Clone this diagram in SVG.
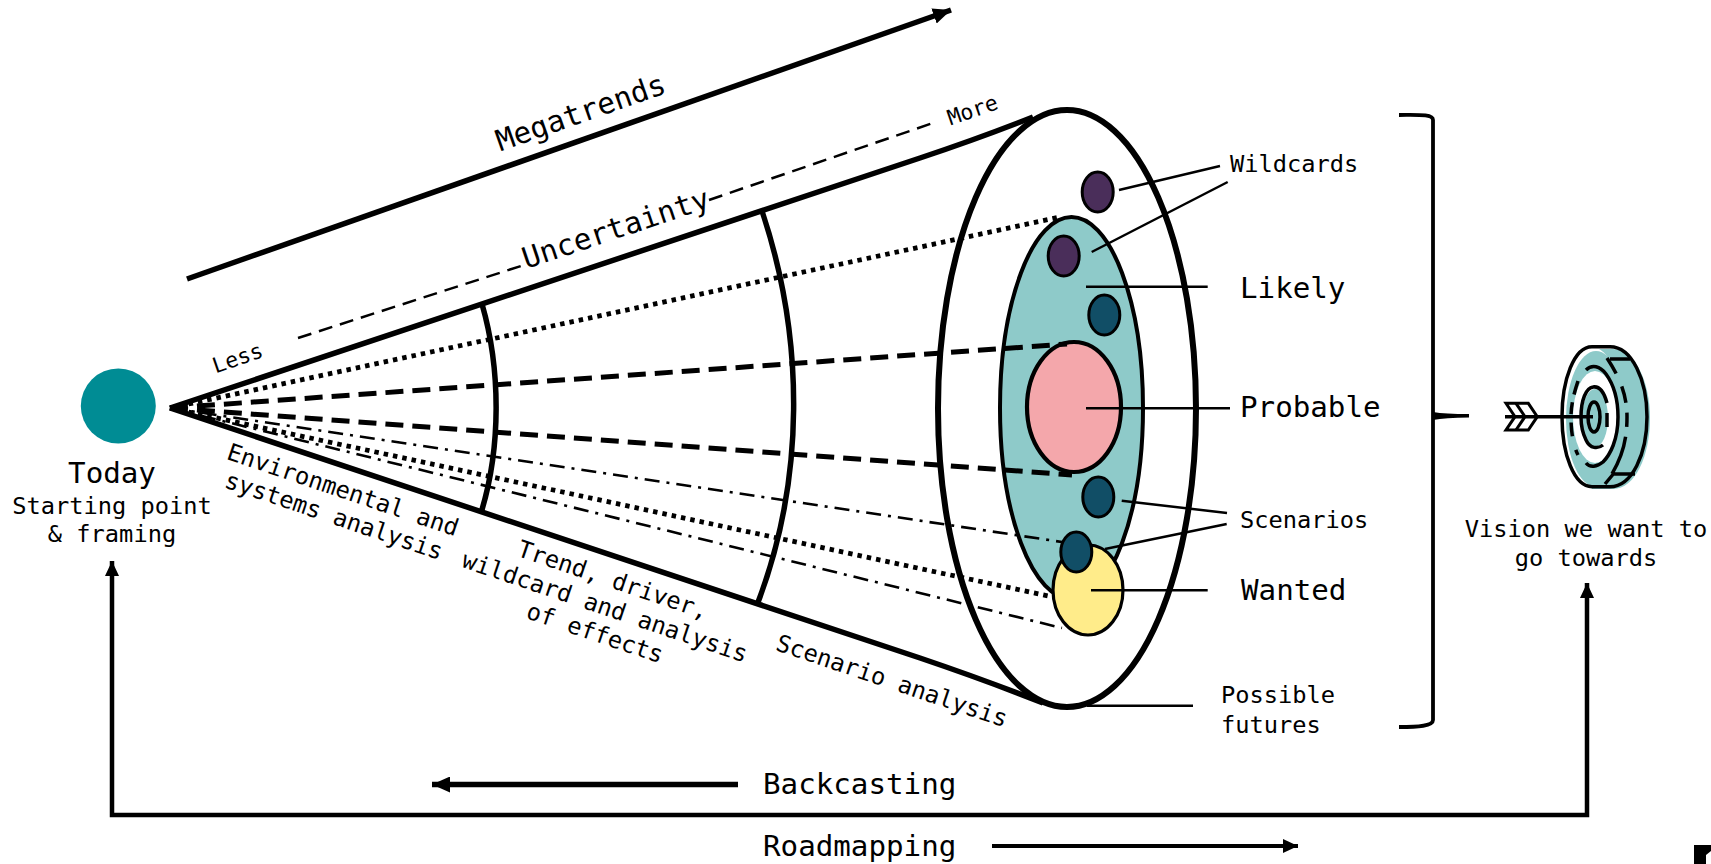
<svg xmlns="http://www.w3.org/2000/svg" width="1711" height="864" viewBox="0 0 1711 864">
<style>
text{font-family:"DejaVu Sans Mono","Liberation Mono",monospace;fill:#000}
.s24{font-size:23.7px}.s29{font-size:29.2px}.s22{font-size:21.5px}
.m{text-anchor:middle}
.l{fill:none;stroke:#000;stroke-linecap:butt}
.ray{fill:none;stroke:#000}
.dot{stroke-width:4.8;stroke-dasharray:4.5 5}
.dash{stroke-width:5;stroke-dasharray:18 9}
.dd{stroke-width:2.6;stroke-dasharray:15 7 3 7}
.lead{fill:none;stroke:#000;stroke-width:2.5}
.e{stroke:#000}
</style>
<defs>
<marker id="ah" markerUnits="userSpaceOnUse" markerWidth="20" markerHeight="16" refX="18" refY="8" orient="auto-start-reverse"><path d="M0 0L18 8L0 16Z" fill="#000"/></marker>
<marker id="ahs" markerUnits="userSpaceOnUse" markerWidth="16" markerHeight="14" refX="15" refY="7" orient="auto-start-reverse"><path d="M0 0L15 7L0 14Z" fill="#000"/></marker>
</defs>
<g id="cone-outer">
<ellipse class="e" cx="1067" cy="408.5" rx="129" ry="298.5" fill="#fff" stroke-width="6"/>
</g>
<g id="likely"><ellipse class="e" cx="1071.500" cy="408" rx="71.500" ry="191" fill="#8ecac9" stroke-width="4"/></g>
<g id="wanted"><ellipse class="e" cx="1088" cy="590" rx="35" ry="45" fill="#ffec8a" stroke-width="3.2"/></g>
<g id="probable"><ellipse class="e" cx="1074" cy="407" rx="47" ry="65" fill="#f4a7ab" stroke-width="4.2"/></g>
<g id="wildcard-a"><ellipse class="e" cx="1097.7" cy="192" rx="15.5" ry="20" fill="#4a2e5a" stroke-width="3"/></g>
<g id="wildcard-b"><ellipse class="e" cx="1063.7" cy="256" rx="15.5" ry="20" fill="#4a2e5a" stroke-width="3"/></g>
<g id="scenario-a"><ellipse class="e" cx="1104.3" cy="315" rx="15.5" ry="20" fill="#114e66" stroke-width="3"/></g>
<g id="scenario-b"><ellipse class="e" cx="1098.3" cy="497" rx="15.5" ry="20" fill="#114e66" stroke-width="3"/></g>
<g id="scenario-c"><ellipse class="e" cx="1076.3" cy="552" rx="15.5" ry="20" fill="#114e66" stroke-width="3"/></g>
<g id="connectors">
<path class="l" stroke-width="5.500" d="M170 408L920 158Q980 138 1033 117"/>
<path class="l" stroke-width="5.500" d="M170 408L920 658Q985 680 1043 703"/>
<path class="l" stroke-width="5.500" d="M482 304C501 370 501 448 481 513"/>
<path class="l" stroke-width="5.500" d="M762 211C805 340 805 480 757 605"/>
<path class="ray dot" d="M170 408L1060 217"/>
<path class="ray dash" d="M170 408L1067 344"/>
<path class="ray dash" d="M170 408L1072 475"/>
<path class="ray dd" d="M170 408L1062 542"/>
<path class="ray dot" d="M170 408L1053 597"/>
<path class="ray dd" d="M170 408L1062 628"/>
<path class="l" stroke-width="5.500" marker-end="url(#ah)" d="M187 279L951 10"/>
<path class="l" stroke-width="2.500" stroke-dasharray="14 8" d="M298 338L524 265"/>
<path class="l" stroke-width="2.500" stroke-dasharray="14 8" d="M709 200L933 123"/>
<path class="lead" d="M1119 190L1220 166"/>
<path class="lead" d="M1091.700 252L1227.700 182"/>
<path class="lead" stroke-width="3" d="M1086 286.700H1207.700"/>
<path class="lead" stroke-width="3" d="M1086 408.300H1230"/>
<path class="lead" d="M1121.700 500.700L1227 513"/>
<path class="lead" d="M1105 549L1226.700 524"/>
<path class="lead" stroke-width="3" d="M1091 590.300H1207.700"/>
<path class="lead" stroke-width="3" d="M1087 705.700H1193"/>
<path class="l" stroke-width="5.500" marker-end="url(#ah)" d="M738 784.500H432"/>
<path class="l" stroke-width="4" marker-end="url(#ahs)" d="M992 846H1298"/>
<path class="l" stroke-width="4.500" marker-start="url(#ahs)" marker-end="url(#ahs)" d="M112 561V815H1587V583"/>
</g>
<g id="bracket">
<path class="l" stroke-width="3.800" d="M1399 115C1418 115 1433 114 1433 120V720C1433 726 1418 727 1399 727"/>
<path d="M1433 412Q1445 414 1469 414V417.500Q1445 417.500 1433 420Z" fill="#000"/>
</g>
<g id="today"><circle cx="118.300" cy="406" r="37.500" fill="#008c94"/>
<text class="s29 m" x="112" y="483">Today</text>
<text class="s24 m" x="112" y="514">Starting point</text>
<text class="s24 m" x="112" y="542">&amp; framing</text></g>
<g id="target">
<path d="M1592 349H1613C1635 349 1650 382 1650 418C1650 456 1635 489 1613 489H1592Z" fill="#8ecac9"/>
<ellipse cx="1592" cy="417" rx="30" ry="70" fill="#fff"/>
<ellipse cx="1596" cy="419" rx="30" ry="68" fill="#8ecac9"/>
<ellipse cx="1595" cy="417" rx="22" ry="46" fill="#fff"/>
<ellipse cx="1595" cy="418" rx="13" ry="29" fill="#8ecac9"/>
<g fill="none" stroke="#000" stroke-width="3.500">
<path d="M1592 346.700H1610C1632 346.700 1647 380 1647 416.700C1647 454 1632 486.700 1610 486.700H1592"/>
<path d="M1592 346.700C1574 346.700 1562 380 1562 416.700C1562 454 1574 486.700 1592 486.700"/>
<path d="M1607 358C1620 378 1627 395 1627 417C1627 445 1620 462 1607 482" stroke-dasharray="18 14 17 10 14 10 40"/>
<path d="M1586 370C1592 364 1600 366 1606 374C1614 385 1618 400 1618 417C1618 440 1610 455 1603 462C1597 467 1590 468 1586 463"/>
<path d="M1578 381C1574 393 1571 405 1571 417C1571 435 1574 447 1578 455" stroke-dasharray="14 8 12 8 14"/>
<path d="M1603 445C1598 449 1590 449 1586 440C1582 432 1581 425 1581 417C1581 400 1586 388 1593 387C1599 386 1604 392 1607 403"/>
<path d="M1607 413V427"/>
<ellipse cx="1594" cy="417" rx="6" ry="15"/>
<path d="M1610 359H1630M1614 474H1635M1605 484L1615 472"/>
</g>
<path d="M1506 403.300H1528.300L1537.300 416.700L1528.300 430H1506L1515 416.700Z" fill="#fff" stroke="#000" stroke-width="3"/>
<path d="M1516 403.300L1525 416.700L1516 430" fill="none" stroke="#000" stroke-width="3"/>
<path d="M1505 416.700H1593" fill="none" stroke="#000" stroke-width="3.500"/>
</g>
<g id="labels">
<text class="m" font-size="29.500" transform="translate(584 122) rotate(-19.400)">Megatrends</text>
<text class="m" font-size="29.500" transform="translate(619 238) rotate(-18.500)">Uncertainty</text>
<text class="s22 m" transform="translate(240 365) rotate(-19)">Less</text>
<text class="s22 m" transform="translate(975 117) rotate(-19)">More</text>
<text class="s24 m" transform="translate(343 490) rotate(18.700)" dy="8">Environmental and</text>
<text class="s24 m" transform="translate(334 516) rotate(18.700)" dy="8">systems analysis</text>
<text class="s24 m" transform="translate(613 580) rotate(18.700)" dy="8">Trend, driver,</text>
<text class="s24 m" transform="translate(605 607) rotate(18.700)" dy="8">wildcard and analysis</text>
<text class="s24 m" transform="translate(595 633) rotate(18.700)" dy="8">of effects</text>
<text class="s24 m" transform="translate(892 681) rotate(18.700)" dy="8">Scenario analysis</text>
<text class="s24" x="1230" y="172">Wildcards</text>
<text class="s29" x="1240" y="298">Likely</text>
<text class="s29" x="1240" y="417">Probable</text>
<text class="s24" x="1240" y="528">Scenarios</text>
<text class="s29" x="1241" y="600">Wanted</text>
<text class="s24" x="1221" y="703">Possible</text>
<text class="s24" x="1221" y="733">futures</text>
<text class="s29" x="763" y="794">Backcasting</text>
<text class="s29" x="763" y="856">Roadmapping</text>
<text class="s24 m" x="1586" y="537">Vision we want to</text>
<text class="s24 m" x="1586" y="566">go towards</text>
</g>
<path id="corner-mark" d="M1694 845H1711V851L1706 855V864H1694Z" fill="#000"/>
</svg>
